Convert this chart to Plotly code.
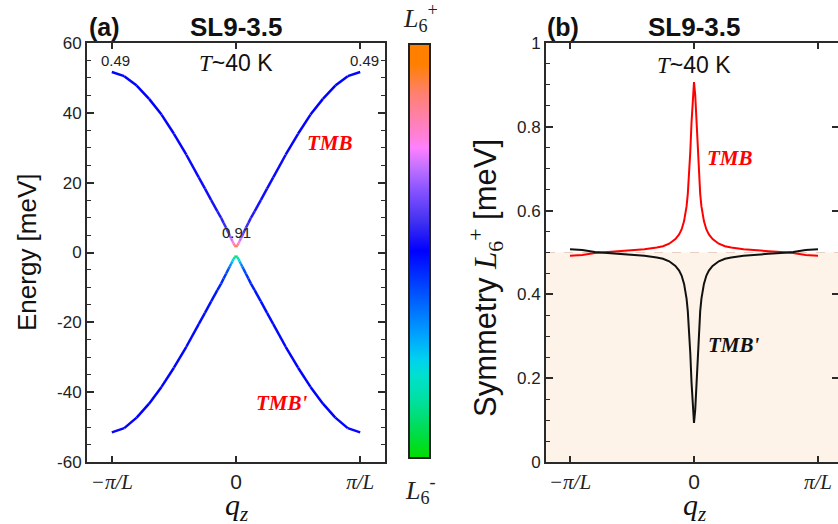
import plotly.graph_objects as go

# ---------------- data (q in units of pi/L) ----------------
q = [-1.0, -0.9, -0.8, -0.7, -0.6, -0.5, -0.4, -0.3, -0.25, -0.2, -0.15, -0.12, -0.1, -0.08,
     -0.06, -0.05, -0.04, -0.03, -0.02, -0.01, 0.0,
     0.01, 0.02, 0.03, 0.04, 0.05, 0.06, 0.08, 0.1, 0.12, 0.15, 0.2, 0.25, 0.3, 0.4, 0.5,
     0.6, 0.7, 0.8, 0.9, 1.0]

energy_tmb = [51.7, 50.5, 47.8, 44.0, 39.5, 34.0, 28.0, 21.5, 18.3, 15.0, 11.8, 9.9, 8.5, 7.1,
              5.6, 4.8, 4.1, 3.3, 2.6, 2.0, 1.6,
              2.0, 2.6, 3.3, 4.1, 4.8, 5.6, 7.1, 8.5, 9.9, 11.8, 15.0, 18.3, 21.5, 28.0, 34.0,
              39.5, 44.0, 47.8, 50.5, 51.7]

energy_tmbp = [-51.5, -50.3, -47.3, -43.3, -38.5, -33.0, -27.0, -20.5, -17.3, -14.0, -10.8, -8.9, -7.5, -6.1,
               -4.7, -4.0, -3.3, -2.6, -1.9, -1.3, -1.0,
               -1.3, -1.9, -2.6, -3.3, -4.0, -4.7, -6.1, -7.5, -8.9, -10.8, -14.0, -17.3, -20.5, -27.0, -33.0,
               -38.5, -43.3, -47.3, -50.3, -51.5]

sym_tmb = [0.492, 0.494, 0.499, 0.501, 0.503, 0.505, 0.508, 0.512, 0.515, 0.521, 0.532, 0.543, 0.555, 0.575,
           0.61, 0.64, 0.68, 0.74, 0.81, 0.875, 0.907,
           0.875, 0.81, 0.74, 0.68, 0.64, 0.61, 0.575, 0.555, 0.543, 0.532, 0.521, 0.515, 0.512, 0.508, 0.505,
           0.503, 0.501, 0.499, 0.494, 0.492]

sym_tmbp = [0.508, 0.506, 0.501, 0.499, 0.497, 0.495, 0.492, 0.488, 0.485, 0.479, 0.468, 0.457, 0.445, 0.425,
            0.39, 0.36, 0.32, 0.26, 0.19, 0.125, 0.093,
            0.125, 0.19, 0.26, 0.32, 0.36, 0.39, 0.425, 0.445, 0.457, 0.468, 0.479, 0.485, 0.488, 0.492, 0.495,
            0.497, 0.499, 0.501, 0.506, 0.508]

x_tickvals = [-1, 0, 1]
x_ticktext = ["<i>−π/L</i>", "<span style='font-family:Arial, Liberation Sans'>0</span>", "<i>π/L</i>"]
e_tickvals = [-60, -40, -20, 0, 20, 40, 60]
e_ticktext = ["-60", "-40", "-20", "0", "20", "40", "60"]
s_tickvals = [0, 0.2, 0.4, 0.6, 0.8, 1.0]
s_ticktext = ["0", "0.2", "0.4", "0.6", "0.8", "1"]

cscale = [[0.0, "#00dd00"], [0.08, "#00dd60"], [0.14, "#00e0a0"], [0.2, "#00e0d0"], [0.24, "#00d0f0"],
          [0.3, "#00a0ff"], [0.36, "#0070ff"], [0.42, "#0040ff"], [0.5, "#0000ff"], [0.57, "#4030f0"],
          [0.64, "#8050ff"], [0.7, "#c070ff"], [0.75, "#ff80ff"], [0.77, "#ff80e0"], [0.88, "#ff8070"],
          [0.95, "#ff8000"], [1.0, "#ff8000"]]

SANS = "Arial, Liberation Sans, sans-serif"
SERIF = "Times New Roman, Liberation Serif, serif"


def hex2rgb(h):
    h = h.lstrip("#")
    return tuple(int(h[i:i + 2], 16) for i in (0, 2, 4))


def color_at(v):
    v = min(max(v, 0.0), 1.0)
    for (p0, c0), (p1, c1) in zip(cscale[:-1], cscale[1:]):
        if p0 <= v <= p1:
            t = 0 if p1 == p0 else (v - p0) / (p1 - p0)
            a, b = hex2rgb(c0), hex2rgb(c1)
            r = [round(a[k] + (b[k] - a[k]) * t) for k in range(3)]
            return f"rgb({r[0]},{r[1]},{r[2]})"
    return cscale[-1][1]


fig = go.Figure()

# ---------- left panel: colored dispersion ----------
for E, S in ((energy_tmb, sym_tmb), (energy_tmbp, sym_tmbp)):
    for i in range(len(q) - 1):
        fig.add_trace(go.Scatter(x=[q[i], q[i + 1]], y=[E[i], E[i + 1]], mode="lines",
                                 line=dict(color=color_at((S[i] + S[i + 1]) / 2), width=2.5),
                                 xaxis="x", yaxis="y", showlegend=False, hoverinfo="skip"))

# colorbar carrier
fig.add_trace(go.Scatter(x=[0, 0], y=[0, 0], mode="markers", xaxis="x", yaxis="y",
                         marker=dict(size=1, opacity=0, color=[0, 1], colorscale=cscale, cmin=0, cmax=1,
                                     showscale=True,
                                     colorbar=dict(x=409 / 838, xanchor="left", y=1 - 251 / 524, yanchor="middle",
                                                   len=414 / 524, lenmode="fraction", thickness=21,
                                                   outlinewidth=2, outlinecolor="#222", xpad=0, ypad=0,
                                                   showticklabels=False, ticks="")),
                         showlegend=False, hoverinfo="skip"))

# ---------- right panel: symmetry ----------
fig.add_trace(go.Scatter(x=q, y=sym_tmb, mode="lines", line=dict(color="#ff0000", width=2),
                         xaxis="x2", yaxis="y2", showlegend=False, hoverinfo="skip"))
fig.add_trace(go.Scatter(x=q, y=sym_tmbp, mode="lines", line=dict(color="#111111", width=2),
                         xaxis="x2", yaxis="y2", showlegend=False, hoverinfo="skip"))
fig.add_trace(go.Scatter(x=[0], y=[0.5], mode="markers", marker=dict(opacity=0, size=1),
                         xaxis="x2", yaxis="y3", showlegend=False, hoverinfo="skip"))

ydom = [1 - 462 / 524, 1 - 43 / 524]
axcol = "#2a2a2a"
common_x = dict(showgrid=False, zeroline=False, showline=True, linecolor=axcol, linewidth=2,
                ticks="inside", ticklen=6, tickwidth=1.5, tickcolor=axcol, mirror="ticks",
                tickvals=x_tickvals, ticktext=x_ticktext, automargin=False,
                tickfont=dict(family=SERIF, size=21, color="#222"))
common_y = dict(showgrid=False, zeroline=False, showline=True, linecolor=axcol, linewidth=2,
                ticks="inside", ticklen=7, tickwidth=1.5, tickcolor=axcol, automargin=False,
                tickfont=dict(family=SANS, size=17, color="#222"), domain=ydom)

fig.update_layout(
    width=838, height=524, margin=dict(l=0, r=0, t=0, b=0, autoexpand=False),
    paper_bgcolor="white", plot_bgcolor="rgba(0,0,0,0)",
    xaxis=dict(domain=[87 / 838, 385 / 838], range=[-1.2, 1.2], anchor="y", **common_x),
    yaxis=dict(anchor="x", range=[-60, 60], tickvals=e_tickvals, ticktext=e_ticktext, mirror="allticks",
               minor=dict(dtick=5, tick0=0, ticks="inside", ticklen=4, tickwidth=1.2, tickcolor=axcol),
               **common_y),
    xaxis2=dict(domain=[546 / 838, 1.0], range=[-(694 - 546) / 124, (838 - 694) / 124], anchor="y2", **common_x),
    yaxis2=dict(anchor="x2", range=[0, 1], tickvals=s_tickvals, ticktext=s_ticktext, mirror=False,
                minor=dict(dtick=0.05, tick0=0, ticks="inside", ticklen=4, tickwidth=1.2, tickcolor=axcol),
                **common_y),
    yaxis3=dict(anchor="x2", overlaying="y2", side="right", range=[0, 1], tickvals=s_tickvals,
                showticklabels=False, showline=False, showgrid=False, zeroline=False, automargin=False,
                ticks="inside", ticklen=6, tickwidth=1.5, tickcolor=axcol),
)

# shaded region and 0.5 dashed line in right panel
fig.add_shape(type="rect", xref="x2 domain", yref="y2", x0=0, x1=1, y0=0, y1=0.5,
              fillcolor="#fdf3e8", line=dict(width=0), layer="below")
fig.add_shape(type="line", xref="x2 domain", yref="y2", x0=0, x1=1, y0=0.5, y1=0.5,
              line=dict(color="#e6cfc4", width=1.2, dash="dash"), layer="below")


def px(xp):
    return xp / 838


def py(yp):
    return 1 - yp / 524


T_txt = f"<span style='font-family:{SERIF}'><i>T</i></span>~40 K"
ann = [
    dict(x=px(87), y=py(27), text="<b>(a)</b>", xanchor="left", font=dict(family=SANS, size=25, color="#111")),
    dict(x=px(236), y=py(27), text="<b>SL9-3.5</b>", font=dict(family=SANS, size=26, color="#111")),
    dict(x=px(236), y=py(63), text=T_txt, font=dict(family=SANS, size=23, color="#111")),
    dict(x=px(116), y=py(61), text="0.49", font=dict(family=SANS, size=15, color="#222")),
    dict(x=px(364), y=py(61), text="0.49", font=dict(family=SANS, size=15, color="#222")),
    dict(x=px(236), y=py(233), text="0.91", font=dict(family=SANS, size=15, color="#222")),
    dict(x=px(330), y=py(143), text="<b><i>TMB</i></b>", font=dict(family=SERIF, size=21, color="#ff0000")),
    dict(x=px(282), y=py(403), text="<b><i>TMB'</i></b>", font=dict(family=SERIF, size=21, color="#ff0000")),
    dict(x=px(545), y=py(27), text="<b>(b)</b>", xanchor="left", font=dict(family=SANS, size=25, color="#111")),
    dict(x=px(694), y=py(27), text="<b>SL9-3.5</b>", font=dict(family=SANS, size=26, color="#111")),
    dict(x=px(694), y=py(65), text=T_txt, font=dict(family=SANS, size=23, color="#111")),
    dict(x=px(730), y=py(158), text="<b><i>TMB</i></b>", font=dict(family=SERIF, size=21, color="#ff0000")),
    dict(x=px(734), y=py(345), text="<b><i>TMB'</i></b>", font=dict(family=SERIF, size=21, color="#111")),
    dict(x=px(420), y=py(18), text="<i>L</i><sub>6</sub><sup>+</sup>", font=dict(family=SERIF, size=26, color="#222")),
    dict(x=px(420), y=py(490), text="<i>L</i><sub>6</sub><sup>-</sup>", font=dict(family=SERIF, size=26, color="#222")),
    dict(x=px(236), y=py(507), text="<i>q</i><sub><i>z</i></sub>", font=dict(family=SERIF, size=30, color="#111")),
    dict(x=px(694), y=py(507), text="<i>q</i><sub><i>z</i></sub>", font=dict(family=SERIF, size=30, color="#111")),
    dict(x=px(27), y=py(252), text="Energy [meV]", textangle=-90, font=dict(family=SANS, size=26, color="#111")),
    dict(x=px(486), y=py(278), text=f"Symmetry <span style='font-family:{SERIF}'><i>L</i><sub>6</sub><sup>+</sup></span> [meV]",
         textangle=-90, font=dict(family=SANS, size=31, color="#111")),
]
for a in ann:
    a.setdefault("xref", "paper")
    a.setdefault("yref", "paper")
    a.setdefault("showarrow", False)
    a.setdefault("yanchor", "middle")
    a.setdefault("xanchor", "center")
    fig.add_annotation(**a)

fig.write_html("out.html", config={"displayModeBar": False},
               post_script="document.body.style.margin='0';document.body.style.overflow='hidden';")
